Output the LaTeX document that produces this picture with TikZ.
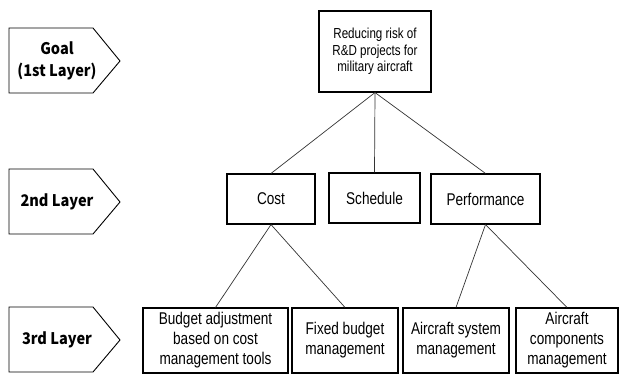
\documentclass[tikz,border=0pt]{standalone}
\usepackage{fontspec}
\setmainfont[FakeStretch=0.8]{Liberation Sans}
\newfontfamily\layerfont[FakeStretch=0.91]{Noto Sans CJK KR}

\begin{document}
\begin{tikzpicture}[x=1pt,y=-1pt,
        box/.style={draw,line width=1.1pt,inner sep=0pt,align=center,font=\fontsize{17}{20}\selectfont},
        layer/.style={align=center,font=\layerfont\bfseries\fontsize{16}{22}\selectfont},
        link/.style={draw=black!80,line width=0.7pt}]
    \useasboundingbox (0,0) rectangle (619,374);

    % layer tags
    \draw[line width=0.9pt] (9,28) -- (93,28) -- (120,61) -- (93,93) -- (9,93) -- cycle;
    \draw[line width=0.9pt] (9,169) -- (93,169) -- (120,202) -- (93,234) -- (9,234) -- cycle;
    \draw[line width=0.9pt] (9,307) -- (93,307) -- (120,340) -- (93,372) -- (9,372) -- cycle;
    \node[layer] (tag1) at (57,61) {Goal\\(1st Layer)};
    \node[layer] (tag2) at (57,202) {2nd Layer};
    \node[layer] (tag3) at (57,340) {3rd Layer};

    % goal
    \node[box,minimum width=112pt,minimum height=81pt,font=\fontsize{14.5}{16.7}\selectfont] (goal) at (375,51.5) {Reducing risk of\\R\&D projects for\\military aircraft};

    % criteria
    \node[box,minimum width=88pt,minimum height=50pt] (cost) at (271,199) {Cost};
    \node[box,minimum width=91pt,minimum height=50pt] (sched) at (374.5,198) {Schedule};
    \node[box,minimum width=109pt,minimum height=50pt] (perf) at (485.5,199) {Performance};

    % sub-criteria
    \node[box,minimum width=145pt,minimum height=65pt] (budget) at (215.5,340.5) {Budget adjustment\\based on cost\\management tools};
    \node[box,minimum width=106pt,minimum height=65pt] (fixed) at (345,340.5) {Fixed budget\\management};
    \node[box,minimum width=106pt,minimum height=65pt] (system) at (456,340.5) {Aircraft system\\management};
    \node[box,minimum width=102pt,minimum height=65pt] (comp) at (567,340.5) {Aircraft\\components\\management};

    \draw[link] (goal.south) -- (cost.north);
    \draw[link] (goal.south) -- (sched.north);
    \draw[link] (goal.south) -- (perf.north);
    \draw[link] (cost.south) -- (budget.north);
    \draw[link] (cost.south) -- (fixed.north);
    \draw[link] (perf.south) -- (system.north);
    \draw[link] (perf.south) -- (comp.north);
\end{tikzpicture}
\end{document}
